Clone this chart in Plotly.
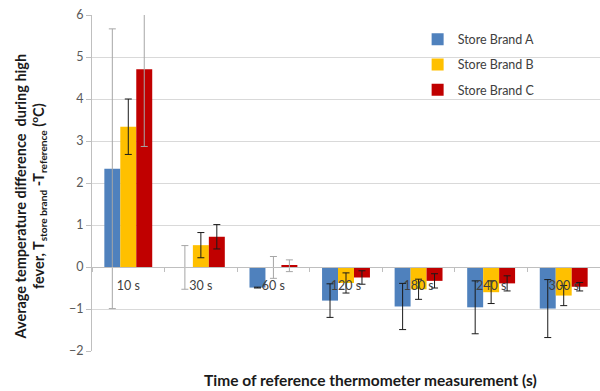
import plotly.graph_objects as go

categories = ["10 s", "30 s", "60 s", "120 s", "180 s", "240 s", "300 s"]
brand_a = [2.34, -0.01, -0.49, -0.80, -0.94, -0.96, -0.99]
brand_a_err = [3.33, 0.52, 0.01, 0.40, 0.55, 0.63, 0.69]
brand_b = [3.34, 0.52, -0.01, -0.38, -0.53, -0.60, -0.68]
brand_b_err = [0.66, 0.30, 0.26, 0.24, 0.24, 0.27, 0.24]
brand_c = [4.71, 0.72, 0.03, -0.25, -0.33, -0.39, -0.47]
brand_c_err = [1.84, 0.29, 0.14, 0.16, 0.17, 0.18, 0.10]
# 1 = light grey error bar, 0 = dark error bar
a_light = [1, 1, 0, 0, 0, 0, 0]
b_light = [0, 0, 1, 0, 0, 0, 0]
c_light = [1, 0, 1, 0, 0, 0, 0]

series = [
    ("Store Brand A", brand_a, brand_a_err, a_light, "#4f81bd"),
    ("Store Brand B", brand_b, brand_b_err, b_light, "#ffc000"),
    ("Store Brand C", brand_c, brand_c_err, c_light, "#c00000"),
]

fig = go.Figure()
for name, vals, errs, light, color in series:
    for tone, ecolor, show in [(0, "#1a1a1a", True), (1, "#a6a6a6", False)]:
        y = [v if l == tone else None for v, l in zip(vals, light)]
        e = [er if l == tone else None for er, l in zip(errs, light)]
        fig.add_trace(go.Bar(
            x=categories, y=y, name=name,
            marker=dict(color=color, line=dict(width=0)),
            offsetgroup=name, legendgroup=name, showlegend=show,
            error_y=dict(type="data", array=e, visible=True,
                         color=ecolor, thickness=1, width=3.5),
        ))

fig.update_layout(
    width=600, height=391,
    margin=dict(l=92, r=0, t=15, b=40),
    paper_bgcolor="white", plot_bgcolor="white",
    barmode="group", bargap=0.34, bargroupgap=0,
    font=dict(family="Lato", size=12, color="#404040"),
    legend=dict(x=0.641, y=0.971, xanchor="left", yanchor="top",
                font=dict(size=12.5, color="#404040"),
                tracegroupgap=6, bgcolor="rgba(0,0,0,0)"),
    xaxis=dict(
        anchor="free", position=0.25,
        showline=True, linecolor="#bfbfbf", linewidth=1,
        showgrid=False, ticks="outside", ticklen=4, tickcolor="#bfbfbf",
        tickson="boundaries", ticklabelstandoff=7,
        tickfont=dict(size=12.5, color="#404040"),
    ),
    yaxis=dict(
        range=[-2, 6], dtick=1, showgrid=True, gridcolor="#d9d9d9",
        zeroline=False, showline=True, linecolor="#bfbfbf",
        ticks="outside", ticklen=5, tickcolor="#bfbfbf",
        tickfont=dict(size=12.5, color="#595959"),
    ),
    annotations=[
        dict(text="<b>Average temperature difference  during high<br>fever, T<sub>store brand</sub> -T<sub>reference</sub> (<sup>o</sup>C)</b>",
             xref="paper", yref="paper", x=-0.12, y=0.46,
             xanchor="center", yanchor="middle", textangle=-90,
             showarrow=False, font=dict(size=14.5, color="#1a1a1a")),
        dict(text="<b>Time of reference thermometer measurement (s)</b>",
             xref="paper", yref="paper", x=0.549, y=-0.086,
             xanchor="center", yanchor="middle",
             showarrow=False, font=dict(size=15.5, color="#1a1a1a")),
    ],
)

fig.write_html("out.html")
